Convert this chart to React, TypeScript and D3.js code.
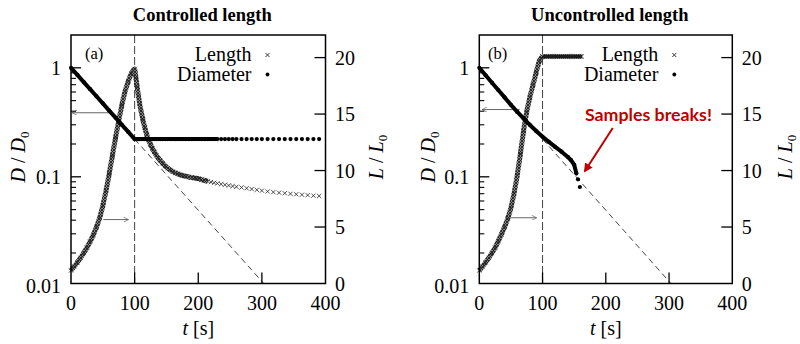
import React from 'react';
import * as d3 from 'd3';

// ---------- data ----------
const xTickValues = [0, 100, 200, 300, 400];
const dTickValues = [1, 0.1, 0.01];
const dTickLabels = ['1', '0.1', '0.01'];
const lTickValues = [0, 5, 10, 15, 20];

// shared sampling of the stretching phase
const riseTimes = [0, 5, 10, 15, 20, 25, 30, 35, 40, 45, 50, 55, 60, 65, 70, 75, 80, 85, 90, 95, 100];
// (a) controlled length
const lengthRiseA = [1.15, 1.5, 1.87, 2.27, 2.7, 3.17, 3.7, 4.3, 5.0, 5.8, 6.9, 8.2, 9.7, 11.3, 12.9, 14.4, 15.8, 17.0, 17.9, 18.6, 19.0];
const decayTimesA = [102, 104, 106, 108, 110, 113, 116, 119, 122, 125, 128, 131, 134, 137, 140, 144, 148, 152, 156, 160, 164, 168, 172, 176, 180, 185, 190, 195, 200, 205, 210, 215, 220, 225, 230, 236, 242, 248, 254, 260, 268, 276, 284, 292, 300, 309, 318, 327, 336, 345, 354, 363, 372, 381, 390];
const lengthDecayA = [18.2, 17.4, 16.6, 15.9, 15.3, 14.5, 13.8, 13.2, 12.7, 12.3, 11.95, 11.65, 11.35, 11.1, 10.9, 10.65, 10.4, 10.2, 10.05, 9.9, 9.8, 9.7, 9.62, 9.55, 9.5, 9.43, 9.38, 9.33, 9.28, 9.2, 9.12, 9.05, 8.98, 8.92, 8.86, 8.8, 8.74, 8.68, 8.62, 8.56, 8.5, 8.43, 8.36, 8.29, 8.22, 8.15, 8.09, 8.04, 7.99, 7.94, 7.9, 7.86, 7.82, 7.78, 7.75];
const diamFallTimes = [0, 10, 20, 30, 40, 50, 60, 70, 80, 90, 100];
const diamFallA = [1, 0.86, 0.74, 0.637, 0.548, 0.471, 0.405, 0.349, 0.3, 0.258, 0.222];
const diamHoldA = 0.222;

// (b) uncontrolled length
const lengthRiseB = [1.15, 1.5, 1.87, 2.27, 2.7, 3.17, 3.75, 4.35, 5.0, 5.75, 6.7, 8.0, 9.6, 11.5, 13.5, 15.2, 16.5, 17.6, 18.7, 19.7, 20.1];
const flatTimesB = [100, 103, 106, 109, 112, 115, 118, 121, 124, 127, 130, 133, 136, 139, 142, 145, 148, 151, 154, 157, 160, 162];
const lengthFlatB = 20.1;
const diamTimesB = [0, 10, 20, 30, 40, 50, 60, 70, 80, 90, 100, 110, 120, 130, 140, 145, 150, 153.5, 156, 159];
const diamB = [1, 0.855, 0.73, 0.625, 0.535, 0.457, 0.394, 0.343, 0.299, 0.263, 0.233, 0.209, 0.188, 0.17, 0.152, 0.142, 0.129, 0.107, 0.0949, 0.0806];

// ideal exponential thinning (dashed)
const idealTimes = [100, 303];
const idealD = [0.222, 0.0105];

// annotation arrows (data units): [t from, t to, value]
const arrowsA = { dLeft: [62, 1.6, 0.387], lRight: [50.8, 90.4, 5.66] };
const arrowsB = { dLeft: [64, 4.3, 0.414], lRight: [48.5, 90.7, 5.82] };
const breakArrow = { t0: 211, d0: 0.28, t1: 167, d1: 0.113 };
const breakLabel = { t: 167, d: 0.327, text: 'Samples breaks!' };

// ---------- layout ----------
const W = 800;
const H = 344;
const Y_TOP = 35;
const Y_BOTTOM = 283.5;
const SERIF = "'Liberation Serif', 'Times New Roman', Tinos, serif";

type Pt = { t: number; v: number };
const zip = (ts: number[], vs: number[]): Pt[] => ts.map((t, i) => ({ t, v: vs[i] }));
const hold = (ts: number[], v: number): Pt[] => ts.map((t) => ({ t, v }));

const crossPath = (s: number) => `M${-s},${-s}L${s},${s}M${-s},${s}L${s},${-s}`;

type PanelProps = {
  left: number;
  right: number;
  title: string;
  tag: string;
  tagX: number;
  dLabelX: number;
  lLabelX: number;
  lengthPts: Pt[];
  lengthBandMax: number;
  lengthSolid?: Pt[];
  diamPts: Pt[];
  diamLineMax: number;
  arrows: { dLeft: number[]; lRight: number[] };
  children?: (x: any, yD: any) => React.ReactNode;
};

const tf = { fontFamily: SERIF } as React.CSSProperties;

function Panel(p: PanelProps) {
  const x = d3.scaleLinear().domain([0, 400]).range([p.left, p.right]);
  const yD = d3.scaleLog().domain([0.0105, 2]).range([Y_BOTTOM, Y_TOP]);
  const yL = d3.scaleLinear().domain([0, 22]).range([Y_BOTTOM, Y_TOP]);
  const lineL = d3.line<Pt>().x((d) => x(d.t)).y((d) => yL(d.v)).curve(d3.curveMonotoneX);
  const lineD = d3.line<Pt>().x((d) => x(d.t)).y((d) => yD(d.v));
  const minor: number[] = [];
  [0.01, 0.1, 1].forEach((dec) => {
    for (let k = 2; k <= 9; k++) {
      const v = k * dec;
      if (v > 0.0105 && v < 2) minor.push(v);
    }
  });
  const cx = (p.left + p.right) / 2;
  const cy = 157;
  const ideal = zip(idealTimes, idealD);
  const [dl0, dl1, dlv] = p.arrows.dLeft;
  const [lr0, lr1, lrv] = p.arrows.lRight;
  return (
    <g>
      <text x={cx + 4} y={21} textAnchor="middle" fontSize={18.5} fontWeight="bold" style={tf}>
        {p.title}
      </text>
      {/* vertical dashed line at t=100 */}
      <line x1={x(100)} x2={x(100)} y1={Y_TOP} y2={Y_BOTTOM} stroke="#444" strokeWidth={1} strokeDasharray="8,3" />
      {/* ideal dashed line */}
      <path d={lineD(ideal) || ''} fill="none" stroke="#444" strokeWidth={1} strokeDasharray="6,4" />
      {/* arrows */}
      <line x1={x(dl0)} x2={x(dl1)} y1={yD(dlv)} y2={yD(dlv)} stroke="#666" strokeWidth={1} markerEnd="url(#openHead)" />
      <line x1={x(lr0)} x2={x(lr1)} y1={yL(lrv)} y2={yL(lrv)} stroke="#666" strokeWidth={1} markerEnd="url(#openHead)" />
      {/* length: dense band + markers */}
      <path d={lineL(p.lengthPts.filter((d) => d.t <= p.lengthBandMax)) || ''} fill="none" stroke="url(#xhatch)" strokeWidth={5} strokeLinejoin="round" />
      {p.lengthSolid && (
        <path d={lineL(p.lengthSolid) || ''} fill="none" stroke="#111" strokeWidth={4} />
      )}
      {p.lengthPts.concat(p.lengthSolid || []).map((d, i) => (
        <path key={'l' + i} d={crossPath(2.1)} transform={`translate(${x(d.t)},${yL(d.v)})`} stroke="#222" strokeWidth={0.8} fill="none" />
      ))}
      {/* diameter */}
      <path d={lineD(p.diamPts.filter((d) => d.t <= p.diamLineMax)) || ''} fill="none" stroke="#000" strokeWidth={4} strokeLinejoin="round" />
      {p.diamPts.map((d, i) => (
        <circle key={'d' + i} cx={x(d.t)} cy={yD(d.v)} r={2.1} fill="#000" />
      ))}
      {/* frame */}
      <rect x={p.left} y={Y_TOP} width={p.right - p.left} height={Y_BOTTOM - Y_TOP} fill="none" stroke="#000" strokeWidth={1.5} />
      {/* x ticks */}
      {xTickValues.map((v) => (
        <g key={'xt' + v}>
          {v > 0 && v < 400 && <line x1={x(v)} x2={x(v)} y1={Y_BOTTOM} y2={Y_BOTTOM - 11} stroke="#000" strokeWidth={1.3} />}
          <text x={x(v)} y={310} textAnchor="middle" fontSize={20} style={tf}>{v}</text>
        </g>
      ))}
      {/* left log ticks */}
      {dTickValues.map((v, i) => (
        <g key={'dt' + v}>
          {yD(v) < Y_BOTTOM - 1 && <line x1={p.left} x2={p.left + 10} y1={yD(v)} y2={yD(v)} stroke="#000" strokeWidth={1.3} />}
          <text x={p.left - 10} y={yD(v)} dy="0.35em" textAnchor="end" fontSize={20} style={tf}>{dTickLabels[i]}</text>
        </g>
      ))}
      {minor.map((v) => (
        <line key={'mn' + v} x1={p.left} x2={p.left + 5} y1={yD(v)} y2={yD(v)} stroke="#000" strokeWidth={1.1} />
      ))}
      {/* right linear ticks */}
      {lTickValues.map((v) => (
        <g key={'lt' + v}>
          {v > 0 && <line x1={p.right} x2={p.right - 11} y1={yL(v)} y2={yL(v)} stroke="#000" strokeWidth={1.3} />}
          <text x={p.right + 9.5} y={yL(v)} dy="0.35em" textAnchor="start" fontSize={20} style={tf}>{v}</text>
        </g>
      ))}
      {/* axis titles */}
      <text x={cx} y={335} textAnchor="middle" fontSize={20} style={tf}>
        <tspan fontStyle="italic">t</tspan>
        <tspan> [s]</tspan>
      </text>
      <text transform={`translate(${p.dLabelX},${cy}) rotate(-90)`} textAnchor="middle" fontSize={20} style={tf}>
        <tspan fontStyle="italic">D</tspan>
        <tspan> / </tspan>
        <tspan fontStyle="italic">D</tspan>
        <tspan fontSize={13} dy={4}>0</tspan>
      </text>
      <text transform={`translate(${p.lLabelX},${cy}) rotate(-90)`} textAnchor="middle" fontSize={20} style={tf}>
        <tspan fontStyle="italic">L</tspan>
        <tspan> / </tspan>
        <tspan fontStyle="italic">L</tspan>
        <tspan fontSize={13} dy={4}>0</tspan>
      </text>
      {/* tag and legend */}
      <text x={p.tagX} y={59} fontSize={16.5} style={tf}>{p.tag}</text>
      <text x={p.right - 74} y={61} textAnchor="end" fontSize={20} style={tf}>Length</text>
      <path d={crossPath(2)} transform={`translate(${p.right - 58},55)`} stroke="#222" strokeWidth={0.9} fill="none" />
      <text x={p.right - 74} y={81} textAnchor="end" fontSize={20} style={tf}>Diameter</text>
      <circle cx={p.right - 58} cy={74.5} r={1.9} fill="#000" />
      {p.children && p.children(x, yD)}
    </g>
  );
}

export default function App() {
  const lengthA = zip(riseTimes, lengthRiseA).concat(zip(decayTimesA, lengthDecayA));
  const diamA = zip(diamFallTimes, diamFallA).concat(hold(decayTimesA, diamHoldA));
  const lengthB = zip(riseTimes, lengthRiseB);
  const flatB = hold(flatTimesB, lengthFlatB);
  const diamPtsB = zip(diamTimesB, diamB);
  return (
    <svg width={W} height={H} viewBox={`0 0 ${W} ${H}`} style={{ position: 'absolute', left: 0, top: 0, background: '#fff', fontFamily: SERIF }}>
      <defs>
        <pattern id="xhatch" width={3} height={3} patternUnits="userSpaceOnUse">
          <rect width={3} height={3} fill="#8a8a8a" />
          <path d="M0,0L3,3M3,0L0,3" stroke="#111" strokeWidth={0.8} />
        </pattern>
        <marker id="openHead" viewBox="0 0 10 10" refX={10} refY={5} markerWidth={8} markerHeight={5} markerUnits="userSpaceOnUse" orient="auto">
          <path d="M0,0L10,5L0,10" fill="none" stroke="#666" strokeWidth={1.4} />
        </marker>
        <marker id="redHead" viewBox="0 0 10 10" refX={8} refY={5} markerWidth={4.5} markerHeight={4.5} orient="auto">
          <path d="M0,0L10,5L0,10z" fill="#c00000" />
        </marker>
      </defs>
      <rect width={W} height={H} fill="#fff" />
      <Panel
        left={71}
        right={325.5}
        title="Controlled length"
        tag="(a)"
        tagX={85}
        dLabelX={25}
        lLabelX={383}
        lengthPts={lengthA}
        lengthBandMax={215}
        diamPts={diamA}
        diamLineMax={230}
        arrows={arrowsA}
      />
      <Panel
        left={479.3}
        right={732.3}
        title="Uncontrolled length"
        tag="(b)"
        tagX={488}
        dLabelX={435}
        lLabelX={792}
        lengthPts={lengthB}
        lengthBandMax={100}
        lengthSolid={flatB}
        diamPts={diamPtsB}
        diamLineMax={154}
        arrows={arrowsB}
      >
        {(x, yD) => (
          <g>
            <text x={x(breakLabel.t)} y={yD(breakLabel.d)} fontSize={17} fontWeight="bold" fill="#c00000" style={{ fontFamily: "Lato, 'Open Sans', sans-serif" }} textLength={127} lengthAdjust="spacingAndGlyphs">
              {breakLabel.text}
            </text>
            <line x1={x(breakArrow.t0)} y1={yD(breakArrow.d0)} x2={x(breakArrow.t1)} y2={yD(breakArrow.d1)} stroke="#c00000" strokeWidth={2} markerEnd="url(#redHead)" />
          </g>
        )}
      </Panel>
    </svg>
  );
}
